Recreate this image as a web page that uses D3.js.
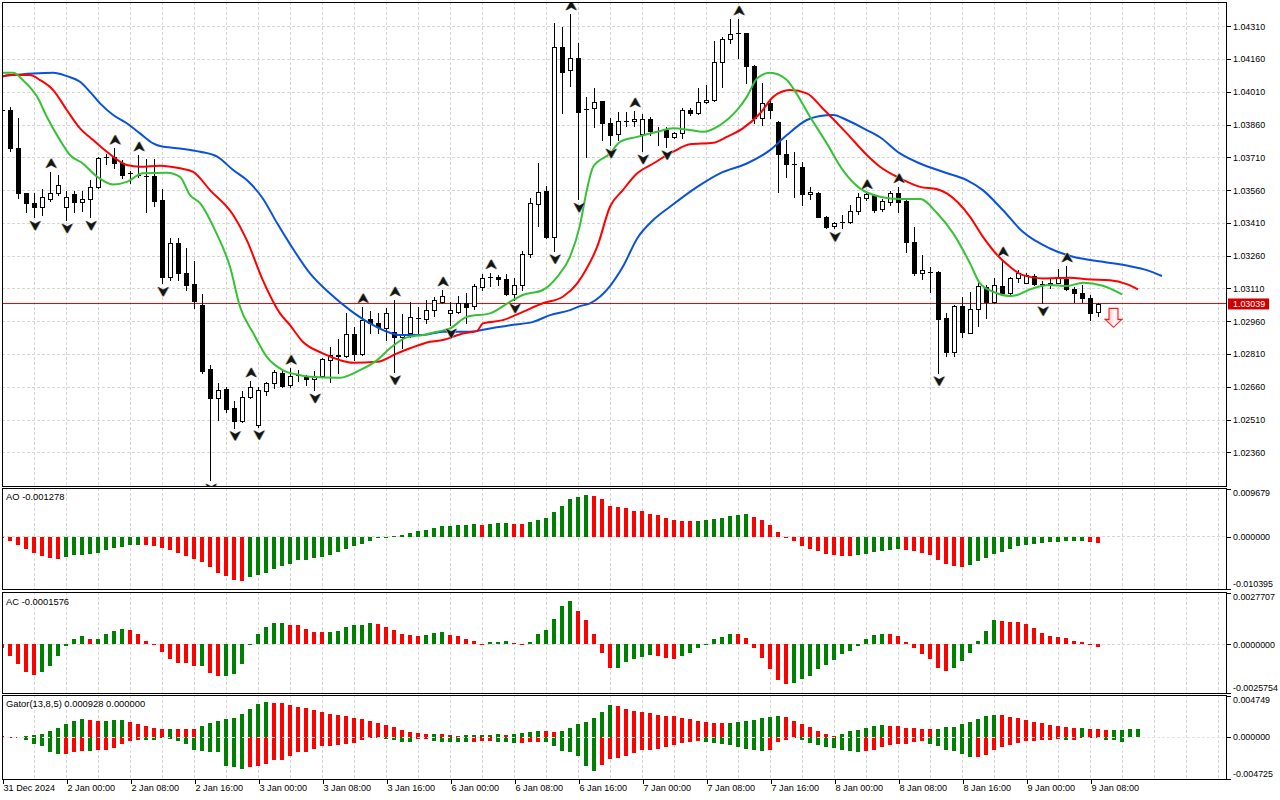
<!DOCTYPE html>
<html><head><meta charset="utf-8">
<script src="https://cdn.jsdelivr.net/npm/d3@7"></script>
<style>
html,body{margin:0;padding:0;background:#fff;overflow:hidden;}
svg{display:block;font-family:"Liberation Sans",Arial,sans-serif;}
</style></head><body>
<svg id="c" width="1280" height="800"></svg>
<script>
// ---------------- DATA (H1 candles, first bar index = -1) ----------------
const firstBar = -1;
const opens = [1.03927,
1.03927,1.03754,1.03546,1.03500,1.03481,1.03521,1.03546,1.03481,1.03541,1.03504,
1.03518,1.03573,1.03712,1.03713,1.03686,1.03637,1.03629,1.03626,1.03626,1.03515,
1.03164,1.03317,1.03179,1.03129,1.03034,1.02740,1.02607,1.02650,1.02561,1.02505,
1.02612,1.02485,1.02642,1.02676,1.02724,1.02668,1.02714,1.02705,1.02694,1.02709,
1.02783,1.02801,1.02801,1.02900,1.02809,1.02969,1.02953,1.02928,1.02912,1.02886,
1.02905,1.02973,1.02970,1.03011,1.03049,1.02996,1.03004,1.03045,1.03030,1.03115,
1.03161,1.03161,1.03152,1.03083,1.03126,1.03268,1.03497,1.03556,1.03347,1.04214,
1.04110,1.04163,1.03930,1.03934,1.03968,1.03869,1.03817,1.03878,1.03878,1.03817,
1.03886,1.03832,1.03835,1.03805,1.03820,1.03927,1.03912,1.03962,1.03973,1.04145,
1.04251,1.04278,1.04278,1.04130,1.03889,1.03957,1.03873,1.03725,1.03678,1.03667,
1.03541,1.03548,1.03438,1.03396,1.03413,1.03413,1.03464,1.03523,1.03537,1.03472,
1.03507,1.03548,1.03510,1.03321,1.03182,1.03187,1.03184,1.02973,1.02821,1.03030,
1.02908,1.03015,1.03118,1.03049,1.03121,1.03088,1.03156,1.03136,1.03167,1.03130,
1.03129,1.03136,1.03152,1.03106,1.03088,1.03065,1.03001];
const highs = [1.03936,
1.03939,1.03889,1.03547,1.03546,1.03564,1.03644,1.03629,1.03557,1.03557,1.03557,
1.03606,1.03713,1.03725,1.03752,1.03698,1.03649,1.03721,1.03701,1.03701,1.03564,
1.03340,1.03340,1.03294,1.03236,1.03083,1.02760,1.02676,1.02658,1.02595,1.02641,
1.02686,1.02658,1.02683,1.02737,1.02737,1.02745,1.02737,1.02714,1.02732,1.02790,
1.02843,1.02877,1.02996,1.02932,1.03026,1.03008,1.02996,1.03019,1.03057,1.02992,
1.03049,1.03024,1.03057,1.03072,1.03103,1.03049,1.03075,1.03088,1.03130,1.03176,
1.03182,1.03172,1.03176,1.03156,1.03283,1.03523,1.03686,1.03579,1.04326,1.04305,
1.04366,1.04235,1.03988,1.04026,1.03970,1.03889,1.03916,1.03919,1.03922,1.03907,
1.03894,1.03850,1.03850,1.03828,1.03934,1.03934,1.04026,1.04041,1.04244,1.04260,
1.04343,1.04343,1.04280,1.04133,1.04049,1.03976,1.03876,1.03790,1.03736,1.03690,
1.03576,1.03553,1.03441,1.03416,1.03446,1.03492,1.03548,1.03548,1.03541,1.03518,
1.03557,1.03576,1.03515,1.03393,1.03263,1.03210,1.03191,1.02996,1.03034,1.03072,
1.03095,1.03136,1.03126,1.03156,1.03240,1.03164,1.03195,1.03182,1.03176,1.03146,
1.03152,1.03198,1.03213,1.03118,1.03126,1.03080,1.03042];
const lows = [1.03918,
1.03741,1.03523,1.03461,1.03436,1.03446,1.03511,1.03537,1.03423,1.03461,1.03466,
1.03436,1.03568,1.03680,1.03660,1.03614,1.03594,1.03619,1.03458,1.03489,1.03134,
1.03149,1.03149,1.03103,1.03019,1.02722,1.02233,1.02508,1.02546,1.02473,1.02500,
1.02607,1.02477,1.02622,1.02653,1.02660,1.02660,1.02686,1.02668,1.02645,1.02706,
1.02683,1.02724,1.02798,1.02783,1.02805,1.02905,1.02905,1.02874,1.02729,1.02836,
1.02889,1.02905,1.02953,1.02984,1.03042,1.02943,1.02996,1.02951,1.03015,1.03103,
1.03121,1.03126,1.03080,1.03057,1.03103,1.03255,1.03397,1.03340,1.03283,1.03914,
1.04036,1.03518,1.03710,1.03850,1.03790,1.03767,1.03790,1.03854,1.03854,1.03739,
1.03812,1.03767,1.03759,1.03797,1.03797,1.03904,1.03907,1.03960,1.03970,1.04031,
1.04232,1.04163,1.04049,1.03866,1.03858,1.03889,1.03550,1.03622,1.03530,1.03492,
1.03518,1.03436,1.03385,1.03385,1.03385,1.03411,1.03451,1.03515,1.03458,1.03464,
1.03492,1.03458,1.03278,1.03172,1.03152,1.03095,1.02724,1.02801,1.02801,1.02886,
1.02905,1.02938,1.02973,1.03045,1.03085,1.03085,1.03141,1.03133,1.03126,1.03045,
1.03111,1.03134,1.03103,1.03049,1.03049,1.02966,1.02984];
const closes = [1.03927,
1.03754,1.03546,1.03500,1.03484,1.03527,1.03548,1.03582,1.03530,1.03504,1.03518,
1.03573,1.03707,1.03713,1.03686,1.03631,1.03637,1.03629,1.03626,1.03511,1.03164,
1.03317,1.03179,1.03126,1.03054,1.02733,1.02607,1.02645,1.02558,1.02505,1.02612,
1.02660,1.02645,1.02676,1.02729,1.02665,1.02709,1.02714,1.02696,1.02709,1.02786,
1.02805,1.02805,1.02900,1.02809,1.02966,1.02953,1.02932,1.02996,1.02886,1.02901,
1.02978,1.02973,1.03011,1.03057,1.03075,1.03011,1.03045,1.03026,1.03121,1.03156,
1.03161,1.03152,1.03083,1.03124,1.03266,1.03500,1.03553,1.03347,1.04214,1.04102,
1.04163,1.03919,1.03930,1.03962,1.03869,1.03812,1.03878,1.03878,1.03886,1.03886,
1.03832,1.03832,1.03805,1.03820,1.03927,1.03912,1.03962,1.03973,1.04145,1.04251,
1.04275,1.04278,1.04130,1.03889,1.03960,1.03927,1.03725,1.03678,1.03678,1.03541,
1.03550,1.03438,1.03393,1.03408,1.03413,1.03464,1.03527,1.03541,1.03469,1.03510,
1.03546,1.03507,1.03321,1.03179,1.03195,1.03187,1.02970,1.02821,1.03030,1.02912,
1.03015,1.03121,1.03049,1.03124,1.03088,1.03159,1.03179,1.03172,1.03129,1.03130,
1.03136,1.03161,1.03106,1.03088,1.03065,1.02996,1.03039];

// Alligator lines: [bar, price]
const jawLine = [[-1,1.04082],[2.9,1.04094],[5.4,1.04097],[7.1,1.04082],[8.75,1.04056],[10,1.04010],[11.25,1.03957],[12.9,1.03904],[14.6,1.03866],[16.25,1.03820],[17.9,1.03774],[18.75,1.03762],[21.25,1.03751],[23.75,1.03736],[25.9,1.03713],[27.9,1.03652],[29.6,1.03606],[31.6,1.03522],[33.4,1.03408],[35,1.03313],[37.5,1.03179],[40,1.03087],[42.5,1.03011],[45,1.02950],[47.5,1.02907],[48.75,1.02897],[51.6,1.02897],[54.1,1.02912],[57.5,1.02912],[60,1.02927],[62.5,1.02942],[65.4,1.02957],[67.5,1.02988],[70,1.03011],[71.25,1.03029],[72.5,1.03042],[75,1.03121],[76.6,1.03209],[78.4,1.03339],[80.4,1.03423],[82.5,1.03484],[85.9,1.03575],[88.75,1.03637],[92.1,1.03682],[95,1.03743],[97.1,1.03812],[99.6,1.03881],[101.25,1.03899],[102.9,1.03904],[104.6,1.03881],[107.1,1.03835],[108.75,1.03802],[111.25,1.03728],[113.75,1.03682],[116.6,1.03644],[119.6,1.03606],[121.6,1.03560],[124.1,1.03469],[126.6,1.03369],[130,1.03293],[132.9,1.03255],[136.6,1.03232],[140,1.03212],[142.1,1.03194],[144,1.03167]];
const teethLine = [[-1,1.04079],[0,1.04087],[2.5,1.04087],[3.75,1.04064],[5.4,1.04018],[7.1,1.03927],[8.75,1.03843],[10.4,1.03789],[12.1,1.03736],[14.6,1.03675],[16.25,1.03667],[18.75,1.03672],[21.25,1.03660],[22.9,1.03644],[25,1.03560],[27.9,1.03446],[29.6,1.03331],[31.6,1.03148],[33.75,1.02996],[35,1.02942],[36.6,1.02866],[39.1,1.02813],[41.25,1.02782],[42.9,1.02770],[45.9,1.02774],[48.4,1.02813],[50,1.02836],[52.5,1.02866],[54.1,1.02874],[56.6,1.02904],[58.4,1.02916],[59.1,1.02950],[61.6,1.02965],[64.1,1.03003],[66.6,1.03042],[69.1,1.03072],[70.9,1.03133],[72.1,1.03202],[73.4,1.03301],[75,1.03484],[76.6,1.03560],[78.4,1.03637],[80.4,1.03682],[82.9,1.03736],[85,1.03770],[87.9,1.03777],[89.6,1.03804],[91.6,1.03843],[93.75,1.03911],[95.4,1.03987],[97.5,1.04018],[99.6,1.04003],[101.6,1.03934],[104.6,1.03820],[107.1,1.03721],[108.75,1.03667],[111.25,1.03614],[113.75,1.03575],[115.9,1.03564],[117.1,1.03545],[120,1.03438],[121.6,1.03347],[123.4,1.03263],[125,1.03209],[126.6,1.03171],[129.1,1.03156],[132.5,1.03159],[134.6,1.03152],[137.5,1.03148],[139.6,1.03130],[141,1.03106]];
const lipsLine = [[-1,1.04097],[0.4,1.04097],[1.6,1.04064],[3.4,1.03987],[4.6,1.03896],[6.25,1.03789],[7.5,1.03721],[9.1,1.03682],[10.9,1.03621],[12.9,1.03586],[14.6,1.03598],[16.6,1.03637],[19.6,1.03640],[21.25,1.03621],[22.5,1.03537],[23.75,1.03501],[25.8,1.03363],[27.5,1.03209],[28.75,1.03026],[30.4,1.02906],[32.1,1.02797],[34.1,1.02736],[36.25,1.02713],[37.5,1.02706],[41.25,1.02701],[43.75,1.02736],[45.9,1.02782],[47.5,1.02836],[49.6,1.02886],[51.6,1.02897],[53.4,1.02912],[55,1.02927],[57.1,1.02980],[60,1.02996],[62.5,1.03049],[64.1,1.03080],[66.6,1.03103],[68.4,1.03163],[70,1.03255],[71.25,1.03400],[72.1,1.03560],[72.9,1.03667],[75,1.03728],[76.25,1.03781],[78.4,1.03804],[80.9,1.03827],[82.9,1.03843],[85,1.03835],[86.6,1.03827],[88.75,1.03858],[90.9,1.03927],[92.1,1.03987],[93.4,1.04072],[95,1.04097],[97.1,1.04064],[97.9,1.04026],[100,1.03896],[102.1,1.03774],[104.1,1.03652],[106.25,1.03568],[108.75,1.03530],[111.25,1.03519],[113.75,1.03519],[115.9,1.03454],[117.9,1.03362],[120,1.03225],[121.25,1.03133],[122.9,1.03095],[125,1.03076],[125.9,1.03080],[127.5,1.03106],[130,1.03126],[132.1,1.03121],[134.1,1.03136],[136.6,1.03122],[139,1.03083]];

const fractalUpBars = [5,13,16,30,35,44,48,54,60,70,78,91,107,111,124,132];
const fractalDownBars = [3,7,10,19,25,28,31,38,48,55,63,68,71,75,79,82,103,116,129];
const signalBar = 138, signalPrice = 1.03019;
const currentPrice = 1.03039;

const aoValues = [-0.00030,
-0.00074,-0.00155,-0.00250,-0.00331,-0.00392,-0.00433,-0.00439,-0.00412,-0.00372,-0.00358,
-0.00352,-0.00331,-0.00270,-0.00223,-0.00196,-0.00162,-0.00155,-0.00160,-0.00176,-0.00216,
-0.00270,-0.00331,-0.00392,-0.00453,-0.00514,-0.00615,-0.00717,-0.00784,-0.00859,-0.00886,
-0.00798,-0.00764,-0.00723,-0.00642,-0.00581,-0.00541,-0.00473,-0.00460,-0.00433,-0.00399,
-0.00358,-0.00304,-0.00250,-0.00189,-0.00149,-0.00074,-0.00027,-0.00007,0.00027,0.00047,
0.00088,0.00115,0.00135,0.00176,0.00216,0.00223,0.00237,0.00243,0.00257,0.00237,
0.00257,0.00277,0.00284,0.00270,0.00257,0.00297,0.00338,0.00379,0.00500,0.00635,
0.00757,0.00798,0.00838,0.00831,0.00757,0.00635,0.00595,0.00575,0.00534,0.00514,
0.00473,0.00453,0.00392,0.00352,0.00331,0.00324,0.00331,0.00338,0.00372,0.00392,
0.00433,0.00453,0.00460,0.00412,0.00352,0.00250,0.00108,-0.00005,-0.00081,-0.00176,
-0.00250,-0.00291,-0.00352,-0.00372,-0.00379,-0.00392,-0.00372,-0.00352,-0.00311,-0.00291,
-0.00270,-0.00250,-0.00257,-0.00291,-0.00331,-0.00372,-0.00473,-0.00554,-0.00595,-0.00615,
-0.00575,-0.00493,-0.00433,-0.00352,-0.00311,-0.00250,-0.00189,-0.00169,-0.00149,-0.00128,
-0.00108,-0.00095,-0.00088,-0.00081,-0.00074,-0.00095,-0.001278];
const acValues = [-0.00018,
-0.00065,-0.00106,-0.00149,-0.00166,-0.00149,-0.00117,-0.00063,-0.00009,0.00027,0.00043,
0.00027,0.00028,0.00054,0.00070,0.00081,0.00076,0.00054,0.00016,-0.00002,-0.00041,
-0.00079,-0.00101,-0.00102,-0.00118,-0.00116,-0.00155,-0.00171,-0.00170,-0.00160,-0.00106,
-0.00004,0.00054,0.00092,0.00113,0.00114,0.00103,0.00102,0.00081,0.00065,0.00064,
0.00065,0.00070,0.00092,0.00103,0.00104,0.00113,0.00108,0.00092,0.00076,0.00054,
0.00049,0.00043,0.00049,0.00059,0.00065,0.00049,0.00043,0.00027,0.00016,-0.00004,
0.00011,0.00012,0.00016,0.00005,-0.00003,0.00011,0.00054,0.00076,0.00135,0.00205,
0.00232,0.00178,0.00130,0.00054,-0.00047,-0.00128,-0.00127,-0.00095,-0.00079,-0.00068,
-0.00058,-0.00063,-0.00074,-0.00079,-0.00063,-0.00047,-0.00020,-0.00004,0.00027,0.00038,
0.00054,0.00053,0.00032,-0.00020,-0.00074,-0.00133,-0.00193,-0.00214,-0.00209,-0.00187,
-0.00171,-0.00133,-0.00112,-0.00085,-0.00052,-0.00036,-0.00009,0.00027,0.00049,0.00054,
0.00053,0.00043,0.00011,-0.00020,-0.00052,-0.00079,-0.00128,-0.00144,-0.00128,-0.00090,
-0.00047,0.00016,0.00070,0.00130,0.00124,0.00122,0.00119,0.00108,0.00086,0.00059,
0.00043,0.00038,0.00032,0.00016,0.00015,0.00002,-0.0001576];
const gatorUpper = [0.00008,
0.00004,0.00002,0.00015,0.00019,0.00041,0.00071,0.00109,0.00150,0.00188,0.00203,
0.00196,0.00184,0.00188,0.00192,0.00196,0.00177,0.00154,0.00128,0.00105,0.00094,
0.00098,0.00096,0.00092,0.00090,0.00132,0.00158,0.00184,0.00207,0.00218,0.00259,
0.00320,0.00376,0.00399,0.00391,0.00384,0.00361,0.00346,0.00327,0.00308,0.00286,
0.00263,0.00252,0.00241,0.00218,0.00211,0.00184,0.00158,0.00135,0.00113,0.00083,
0.00060,0.00049,0.00038,0.00041,0.00037,0.00023,0.00015,0.00019,0.00023,0.00026,
0.00028,0.00030,0.00026,0.00038,0.00049,0.00060,0.00071,0.00068,0.00056,0.00068,
0.00105,0.00147,0.00169,0.00218,0.00286,0.00361,0.00350,0.00316,0.00297,0.00286,
0.00274,0.00252,0.00241,0.00239,0.00218,0.00207,0.00184,0.00173,0.00162,0.00158,
0.00162,0.00173,0.00184,0.00196,0.00218,0.00229,0.00237,0.00233,0.00188,0.00154,
0.00117,0.00071,0.00041,0.00015,0.00041,0.00064,0.00083,0.00105,0.00128,0.00139,
0.00128,0.00126,0.00105,0.00103,0.00090,0.00088,0.00090,0.00117,0.00120,0.00150,
0.00173,0.00203,0.00241,0.00252,0.00248,0.00233,0.00218,0.00196,0.00177,0.00158,
0.00139,0.00128,0.00113,0.00102,0.00105,0.00094,0.00090,0.00083,0.00085,0.00086,
0.00090,0.000928];
const gatorLower = [-0.00015,
-0.00011,-0.00008,-0.00038,-0.00075,-0.00105,-0.00165,-0.00196,-0.00192,-0.00169,-0.00158,
-0.00162,-0.00150,-0.00143,-0.00124,-0.00079,-0.00041,-0.00030,-0.00034,-0.00038,-0.00015,
-0.00026,-0.00041,-0.00083,-0.00143,-0.00158,-0.00165,-0.00173,-0.00327,-0.00338,-0.00368,
-0.00338,-0.00331,-0.00308,-0.00263,-0.00256,-0.00218,-0.00173,-0.00165,-0.00135,-0.00105,
-0.00098,-0.00086,-0.00075,-0.00068,-0.00030,-0.00008,-0.00015,-0.00019,-0.00038,-0.00053,
-0.00055,-0.00023,-0.00019,-0.00041,-0.00053,-0.00055,-0.00056,-0.00060,-0.00053,-0.00045,
-0.00041,-0.00053,-0.00060,-0.00071,-0.00068,-0.00060,-0.00053,-0.00060,-0.00105,-0.00162,
-0.00173,-0.00218,-0.00331,-0.00387,-0.00320,-0.00252,-0.00241,-0.00218,-0.00184,-0.00150,
-0.00149,-0.00139,-0.00117,-0.00094,-0.00071,-0.00060,-0.00049,-0.00056,-0.00068,-0.00083,
-0.00086,-0.00113,-0.00132,-0.00150,-0.00162,-0.00143,-0.00053,-0.00030,-0.00004,-0.00038,
-0.00068,-0.00090,-0.00113,-0.00128,-0.00150,-0.00162,-0.00173,-0.00162,-0.00150,-0.00113,
-0.00090,-0.00083,-0.00081,-0.00060,-0.00049,-0.00075,-0.00105,-0.00143,-0.00154,-0.00196,
-0.00229,-0.00226,-0.00199,-0.00143,-0.00113,-0.00086,-0.00068,-0.00049,-0.00047,-0.00038,
-0.00030,-0.00019,-0.00030,-0.00028,-0.00004,-0.00002,-0.00015,-0.00030,-0.00038,-0.00053];

const priceTicks = [1.04310,1.04160,1.04010,1.03860,1.03710,1.03560,1.03410,1.03260,1.03110,1.02960,1.02810,1.02660,1.02510,1.02360];
const aoScale = [-0.010395, 0.009679];
const acScale = [-0.0025754, 0.0027707];
const gatorScale = [-0.004725, 0.004749];
const timeTickBars = [-1,7,15,23,31,39,47,55,63,71,79,87,95,103,111,119,127,135];
const timeLabels = ["31 Dec 2024","2 Jan 00:00","2 Jan 08:00","2 Jan 16:00","3 Jan 00:00","3 Jan 08:00","3 Jan 16:00","6 Jan 00:00","6 Jan 08:00","6 Jan 16:00","7 Jan 00:00","7 Jan 08:00","7 Jan 16:00","8 Jan 00:00","8 Jan 08:00","8 Jan 16:00","9 Jan 00:00","9 Jan 08:00"];

// ---------------- LAYOUT ----------------
const plotL = 2, plotR = 1227;
const P = {
  main: {top: 2, bottom: 486},
  ao: {top: 488, bottom: 589},
  ac: {top: 592, bottom: 693},
  gator: {top: 695, bottom: 779}
};
const GREEN = "#008000", RED = "#ff0000", GRID = "#d6d6d6";
const FONT = 8.9, TITLE_FONT = 9.4;
const fmt = p => v => d3.format(p)(v).replace("\u2212", "-");

const svg = d3.select("#c");
const defs = svg.append("defs");
const x = d3.scaleLinear().domain([-1, 141]).range([2, 1138]);
const yMain = d3.scaleLinear().domain([priceTicks[priceTicks.length-1], priceTicks[0]]).range([452.3, 26.3]);
const yAO = d3.scaleLinear().domain(aoScale).range([P.ao.bottom - 0.5, P.ao.top + 1]);
const yAC = d3.scaleLinear().domain(acScale).range([P.ac.bottom - 0.5, P.ac.top + 0.5]);
const yG = d3.scaleLinear().domain(gatorScale).range([P.gator.bottom - 0.5, P.gator.top + 0.5]);

function panelGroup(name, p) {
  defs.append("clipPath").attr("id", "clip-" + name).append("rect")
    .attr("x", plotL + 1).attr("y", p.top + 1).attr("width", plotR - plotL - 1).attr("height", p.bottom - p.top - 1);
  return svg.append("g").attr("clip-path", "url(#clip-" + name + ")");
}
const gridBars = d3.range(3, 160, 4).filter(b => x(b) < plotR);
function vGrid(g, p) {
  g.append("g").selectAll("line").data(gridBars).join("line")
    .attr("x1", b => x(b) + 0.5).attr("x2", b => x(b) + 0.5)
    .attr("y1", p.top).attr("y2", p.bottom)
    .attr("stroke", GRID).attr("stroke-dasharray", "3,2").attr("shape-rendering", "crispEdges");
}
function hLine(g, y, color, dash) {
  const l = g.append("line").attr("x1", plotL).attr("x2", plotR).attr("y1", Math.round(y) + 0.5).attr("y2", Math.round(y) + 0.5)
    .style("stroke", color).style("stroke-width", 1).attr("shape-rendering", "crispEdges");
  if (dash) l.style("stroke-dasharray", dash);
  return l;
}

// ---------------- MAIN PANEL ----------------
const gm = panelGroup("main", P.main);
vGrid(gm, P.main);
priceTicks.forEach(t => hLine(gm, yMain(t), GRID, "3,2"));
// current price line (solid red)
gm.append("rect").attr("x", plotL).attr("y", Math.round(yMain(currentPrice)) - 1)
  .attr("width", plotR - plotL).attr("height", 1).style("fill", "#ff0000").attr("shape-rendering", "crispEdges");

const bars = d3.range(opens.length).map(i => i + firstBar);
const gc = gm.append("g").attr("shape-rendering", "crispEdges");
bars.forEach((b, i) => {
  const cx = Math.round(x(b));
  const o = opens[i], c = closes[i], h = highs[i], l = lows[i];
  gc.append("line").attr("x1", cx + 0.5).attr("x2", cx + 0.5)
    .attr("y1", Math.round(yMain(h))).attr("y2", Math.round(yMain(l)) + 1).attr("stroke", "#000");
  const yt = Math.round(yMain(Math.max(o, c))), yb = Math.round(yMain(Math.min(o, c)));
  if (yb - yt < 1) {
    gc.append("rect").attr("x", cx - 2).attr("y", yt).attr("width", 5).attr("height", 1).attr("fill", "#000");
  } else if (c >= o) {
    gc.append("rect").attr("x", cx - 1.5).attr("y", yt + 0.5).attr("width", 4).attr("height", yb - yt)
      .attr("fill", "#fff").attr("stroke", "#000");
  } else {
    gc.append("rect").attr("x", cx - 2).attr("y", yt).attr("width", 5).attr("height", yb - yt + 1).attr("fill", "#000");
  }
});

const lineGen = d3.line().x(d => x(d[0])).y(d => yMain(d[1])).curve(d3.curveMonotoneX);
[[jawLine, "#0a52dc"], [teethLine, "#ff0000"], [lipsLine, "#36c236"]].forEach(([pts, col]) => {
  gm.append("path").attr("d", lineGen(pts)).attr("fill", "none").attr("stroke", col).attr("stroke-width", 2);
});

// fractal arrows
const upPath = "M0,0 L5.5,10 L0,7 L-5.5,10 Z";
const downPath = "M0,0 L5.5,-10 L0,-7 L-5.5,-10 Z";
function fractal(cx, ty, path) {
  const g = gm.append("g").attr("transform", `translate(${cx},${ty})`);
  g.append("path").attr("d", path).attr("transform", "translate(-0.9,0)").attr("fill", "#e0a94e");
  g.append("path").attr("d", path).attr("transform", "translate(0.9,0)").attr("fill", "#6aa6e6");
  g.append("path").attr("d", path).attr("fill", "#151515");
}
fractalUpBars.forEach(b => fractal(x(b) + 1.2, yMain(highs[b - firstBar]) - 13.5, upPath));
fractalDownBars.forEach(b => fractal(x(b) + 1.2, yMain(lows[b - firstBar]) + 13.5, downPath));

// sell signal arrow
const sg = defs.append("linearGradient").attr("id", "sigGrad").attr("x1", 0).attr("x2", 1).attr("y1", 0).attr("y2", 0);
sg.append("stop").attr("offset", "0%").attr("stop-color", "#ff9a9a");
sg.append("stop").attr("offset", "55%").attr("stop-color", "#ffffff");
sg.append("stop").attr("offset", "100%").attr("stop-color", "#ffc0c0");
gm.append("path").attr("transform", `translate(${x(signalBar) - 0.5},${yMain(signalPrice)})`)
  .attr("d", "M-4.5,0 H4.5 V11 H8.5 L0,19 L-8.5,11 H-4.5 Z")
  .attr("fill", "url(#sigGrad)").attr("stroke", "#ff1a1a").attr("stroke-width", 1.1);

// ---------------- SUB PANELS ----------------
function histogram(g, vals, yS, start, colorFn) {
  const y0 = yS(0);
  g.append("g").attr("shape-rendering", "crispEdges").selectAll("rect").data(vals).join("rect")
    .attr("x", (v, i) => Math.round(x(i + start)) - 2)
    .attr("width", 4)
    .attr("y", v => Math.min(yS(v), y0))
    .attr("height", v => Math.max(1, Math.abs(yS(v) - y0)))
    .attr("fill", (v, i) => colorFn(v, i));
}
const diffColor = arr => (v, i) => (i > 0 && v > arr[i - 1]) ? GREEN : RED;
const magColor = arr => (v, i) => (i > 0 && Math.abs(v) > Math.abs(arr[i - 1])) ? GREEN : RED;

const ga = panelGroup("ao", P.ao);
vGrid(ga, P.ao);
hLine(ga, yAO(0) - 0.5, GRID, "3,2");
histogram(ga, aoValues, yAO, firstBar, diffColor(aoValues));

const gac = panelGroup("ac", P.ac);
vGrid(gac, P.ac);
hLine(gac, yAC(0) - 0.5, GRID, "3,2");
histogram(gac, acValues, yAC, firstBar, diffColor(acValues));

const gg = panelGroup("gator", P.gator);
vGrid(gg, P.gator);
histogram(gg, gatorUpper, yG, firstBar, diffColor(gatorUpper));
histogram(gg, gatorLower, yG, firstBar, magColor(gatorLower));
hLine(gg, yG(0) - 0.5, "#e4e4e4", "3,2");

// ---------------- FRAMES ----------------
Object.values(P).forEach(p => {
  svg.append("rect").attr("x", plotL + 0.5).attr("y", p.top + 0.5).attr("width", plotR - plotL - 1).attr("height", p.bottom - p.top)
    .attr("fill", "none").attr("stroke", "#000").attr("shape-rendering", "crispEdges");
});

// ---------------- AXES ----------------
const axMain = d3.axisRight(yMain).tickValues(priceTicks).tickFormat(fmt(".5f")).tickSize(4).tickPadding(2);
const gax = svg.append("g").attr("transform", `translate(${plotR},0)`).call(axMain);
gax.select(".domain").remove();
gax.selectAll("text").attr("font-size", FONT).attr("font-family", "Liberation Sans, Arial, sans-serif").attr("fill", "#000");
gax.selectAll("line").attr("stroke", "#000").attr("shape-rendering", "crispEdges");

// current price label
const cpY = yMain(currentPrice);
svg.append("rect").attr("x", plotR + 1).attr("y", cpY - 5.5).attr("width", 41).attr("height", 11).attr("fill", "#d00000");
svg.append("text").attr("x", plotR + 6).attr("y", cpY + 3.3).attr("font-size", FONT).attr("fill", "#fff")
  .text(fmt(".5f")(currentPrice));

function subAxis(yS, dom, f) {
  const [lo, hi] = dom;
  const r = yS.range();
  const items = [[hi, r[1] + 4], [0, yS(0)], [lo, r[0] - 4.3]];
  items.forEach(([v, yc]) => {
    svg.append("line").attr("x1", plotR).attr("x2", plotR + 4).attr("y1", Math.round(yS(v)) + 0.5).attr("y2", Math.round(yS(v)) + 0.5)
      .attr("stroke", "#000").attr("shape-rendering", "crispEdges");
    svg.append("text").attr("x", plotR + 6).attr("y", yc + 3.2).attr("font-size", FONT).attr("fill", "#000").text(f(v));
  });
}
subAxis(yAO, aoScale, fmt(".6f"));
subAxis(yAC, acScale, fmt(".7f"));
subAxis(yG, gatorScale, fmt(".6f"));

// panel titles
const lastAO = aoValues[aoValues.length - 1], lastAC = acValues[acValues.length - 1];
svg.append("text").attr("x", 6).attr("y", P.ao.top + 12).attr("font-size", TITLE_FONT).text("AO " + fmt(".6f")(lastAO));
svg.append("text").attr("x", 6).attr("y", P.ac.top + 13).attr("font-size", TITLE_FONT).text("AC " + fmt(".7f")(lastAC));
svg.append("text").attr("x", 6).attr("y", P.gator.top + 12).attr("font-size", TITLE_FONT)
  .text("Gator(13,8,5) " + fmt(".6f")(gatorUpper[gatorUpper.length - 1]) + " " + fmt(".6f")(0));

// time axis
const axTime = d3.axisBottom(x).tickValues(timeTickBars).tickFormat((d, i) => timeLabels[i]).tickSize(4).tickPadding(2);
const gt = svg.append("g").attr("transform", `translate(0.5,${P.gator.bottom + 0.5})`).call(axTime);
gt.select(".domain").remove();
gt.selectAll("line").attr("stroke", "#000").attr("shape-rendering", "crispEdges");
gt.selectAll("text").attr("font-size", 9.1).attr("font-family", "Liberation Sans, Arial, sans-serif")
  .attr("fill", "#000").attr("text-anchor", "start").attr("dx", "0.5").attr("dy", "0.55em");
</script>
</body></html>
